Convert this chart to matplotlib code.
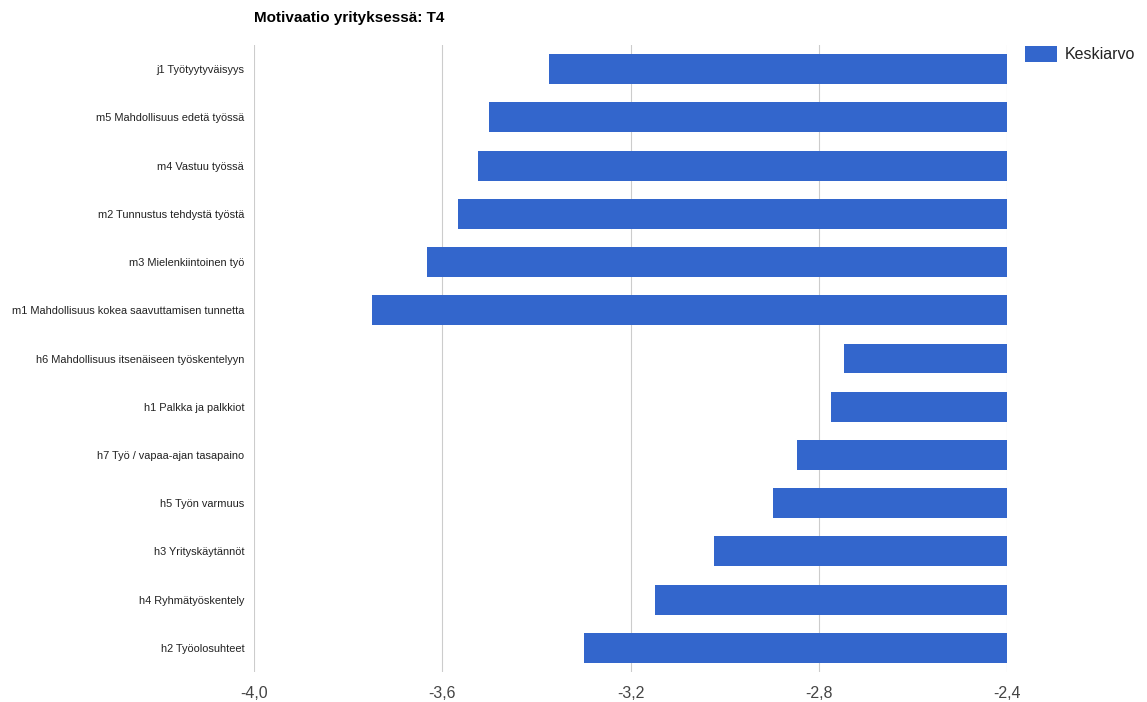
import matplotlib
matplotlib.use("Agg")
import matplotlib.pyplot as plt
from matplotlib.patches import Patch

categories = [
    "j1 Työtyytyväisyys",
    "m5 Mahdollisuus edetä työssä",
    "m4 Vastuu työssä",
    "m2 Tunnustus tehdystä työstä",
    "m3 Mielenkiintoinen työ",
    "m1 Mahdollisuus kokea saavuttamisen tunnetta",
    "h6 Mahdollisuus itsenäiseen työskentelyyn",
    "h1 Palkka ja palkkiot",
    "h7 Työ / vapaa-ajan tasapaino",
    "h5 Työn varmuus",
    "h3 Yrityskäytännöt",
    "h4 Ryhmätyöskentely",
    "h2 Työolosuhteet",
]
keskiarvo = [-3.374, -3.50, -3.523, -3.566, -3.632, -3.749,
             -2.747, -2.774, -2.847, -2.898, -3.023, -3.147, -3.298]
xticks = [-4.0, -3.6, -3.2, -2.8, -2.4]
baseline = -2.4

plt.rcParams['font.family'] = ['Liberation Sans', 'DejaVu Sans']

fig = plt.figure(figsize=(11.47, 7.02), dpi=100)
ax = fig.add_axes([0.2214, 0.0427, 0.878 - 0.2214, 0.9359 - 0.0427])

ypos = list(range(len(categories)))
widths = [v - baseline for v in keskiarvo]
ax.barh(ypos, widths, left=baseline, height=0.62, color="#3366cc", zorder=3)

ax.set_xlim(-4.0, -2.4)
ax.set_ylim(len(categories) - 0.5, -0.5)
ax.set_xticks(xticks)
ax.set_xticklabels([f"{t:.1f}".replace(".", ",") for t in xticks],
                   fontsize=11.5, color="#444444")
ax.set_yticks(ypos)
ax.set_yticklabels(categories, fontsize=7.9, color="#222222")
ax.tick_params(axis="both", length=0)
ax.tick_params(axis="x", pad=10)
ax.tick_params(axis="y", pad=7)
ax.grid(axis="x", color="#cccccc", linewidth=0.8, zorder=0)
for s in ax.spines.values():
    s.set_visible(False)

fig.text(254 / 1147, 1 - 18 / 702, "Motivaatio yrityksessä: T4",
         fontsize=11, fontweight="bold", color="#000000",
         ha="left", va="center")

handle = Patch(facecolor="#3366cc", edgecolor="none")
fig.legend([handle], ["Keskiarvo"], loc="upper left",
           bbox_to_anchor=(1011 / 1147, 1 - 32 / 702), frameon=False,
           fontsize=11.5, handlelength=2.0, handleheight=1.1,
           handletextpad=0.45, labelcolor="#222222")

fig.savefig("out.png", dpi=100)
